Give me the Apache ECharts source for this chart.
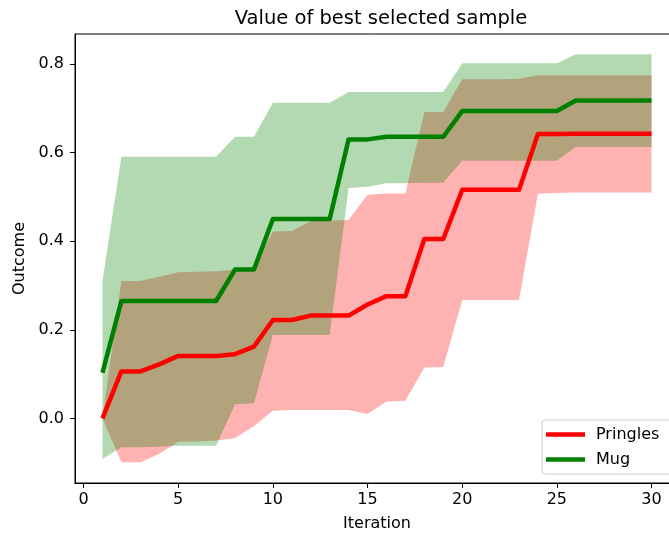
<!DOCTYPE html>
<html>
<head>
<meta charset="utf-8">
<script src="https://cdn.jsdelivr.net/npm/echarts@6/dist/echarts.min.js"></script>
<style>
  html, body { margin: 0; padding: 0; background: #ffffff; }
  #chart { width: 669px; height: 539px; }
</style>
</head>
<body>
<div id="chart"></div>
<script>
// Iterations of the selection run
const iterations = [1, 2, 3, 4, 5, 6, 7, 8, 9, 10, 11, 12, 13, 14, 15,
                    16, 17, 18, 19, 20, 21, 22, 23, 24, 25, 26, 27, 28, 29, 30];

// Pringles: mean outcome of best selected sample and its spread
const pringlesMean = [0.000, 0.106, 0.106, 0.122, 0.141, 0.141, 0.141, 0.145, 0.162, 0.222,
                      0.222, 0.232, 0.232, 0.232, 0.257, 0.276, 0.276, 0.405, 0.405, 0.516,
                      0.516, 0.516, 0.516, 0.642, 0.642, 0.643, 0.643, 0.643, 0.643, 0.643];
const pringlesLow  = [0.000, -0.099, -0.099, -0.080, -0.053, -0.052, -0.050, -0.045, -0.017, 0.017,
                      0.019, 0.019, 0.019, 0.019, 0.010, 0.038, 0.040, 0.115, 0.116, 0.267,
                      0.267, 0.267, 0.267, 0.507, 0.509, 0.510, 0.510, 0.510, 0.510, 0.510];
const pringlesHigh = [0.000, 0.310, 0.310, 0.320, 0.330, 0.331, 0.332, 0.336, 0.340, 0.422,
                      0.423, 0.445, 0.447, 0.448, 0.505, 0.508, 0.508, 0.692, 0.692, 0.766,
                      0.766, 0.766, 0.767, 0.775, 0.775, 0.775, 0.775, 0.775, 0.775, 0.775];

// Mug: mean outcome of best selected sample and its spread
const mugMean = [0.103, 0.265, 0.265, 0.265, 0.265, 0.265, 0.265, 0.336, 0.336, 0.450,
                 0.450, 0.450, 0.450, 0.630, 0.630, 0.636, 0.636, 0.636, 0.636, 0.694,
                 0.694, 0.694, 0.694, 0.694, 0.694, 0.718, 0.718, 0.718, 0.718, 0.718];
const mugLow  = [-0.092, -0.065, -0.065, -0.064, -0.062, -0.062, -0.062, 0.032, 0.034, 0.188,
                 0.188, 0.188, 0.188, 0.520, 0.523, 0.531, 0.531, 0.532, 0.532, 0.582,
                 0.582, 0.582, 0.582, 0.582, 0.582, 0.613, 0.613, 0.613, 0.613, 0.613];
const mugHigh = [0.310, 0.591, 0.591, 0.591, 0.591, 0.591, 0.591, 0.636, 0.636, 0.713,
                 0.713, 0.713, 0.713, 0.737, 0.737, 0.737, 0.737, 0.737, 0.737, 0.802,
                 0.802, 0.802, 0.802, 0.802, 0.802, 0.822, 0.822, 0.822, 0.822, 0.822];

// Tick labels
const xTicks = [0, 5, 10, 15, 20, 25, 30];
const yTicks = [0.0, 0.2, 0.4, 0.6, 0.8];

const FONT = 'DejaVu Sans';

function pairs(xs, ys) {
  return xs.map((x, i) => [x, ys[i]]);
}

// Shaded band between a lower and an upper curve, drawn as one polygon
function band(name, xs, lo, hi, color) {
  return {
    name: name,
    type: 'custom',
    silent: true,
    data: xs.map((x, i) => [x, lo[i], hi[i]]),
    encode: { x: 0, y: [1, 2] },
    renderItem: function (params, api) {
      if (params.dataIndex !== 0) return null;
      const pts = [];
      for (let i = 0; i < xs.length; i++) pts.push(api.coord([xs[i], hi[i]]));
      for (let i = xs.length - 1; i >= 0; i--) pts.push(api.coord([xs[i], lo[i]]));
      return {
        type: 'polygon',
        shape: { points: pts },
        style: { fill: color, stroke: null }
      };
    }
  };
}

function line(name, xs, ys, color) {
  return {
    name: name,
    type: 'line',
    data: pairs(xs, ys),
    symbol: 'none',
    lineStyle: { color: color, width: 4.5, join: 'round', cap: 'butt' },
    itemStyle: { color: color },
    animation: false
  };
}

const chart = echarts.init(document.getElementById('chart'), null, { renderer: 'canvas' });

chart.setOption({
  animation: false,
  backgroundColor: '#ffffff',
  textStyle: { fontFamily: FONT },
  title: {
    text: 'Value of best selected sample',
    left: 376,
    textAlign: 'center',
    top: 4,
    textStyle: { fontFamily: FONT, fontSize: 19.5, fontWeight: 'normal', color: '#000' }
  },
  grid: {
    left: 75, top: 34, width: 604, height: 449,
    outerBoundsMode: 'none',
    containLabel: false,
    show: true, borderColor: '#000', borderWidth: 1, backgroundColor: 'transparent'
  },
  legend: {
    data: [
      { name: 'Pringles', icon: 'rect' },
      { name: 'Mug', icon: 'rect' }
    ],
    orient: 'vertical',
    left: 542,
    top: 420,
    itemWidth: 39,
    itemHeight: 4.5,
    itemGap: 8,
    padding: [6, 14, 6, 4],
    backgroundColor: '#ffffff',
    borderColor: '#cccccc',
    borderWidth: 1,
    borderRadius: 3,
    textStyle: { fontFamily: FONT, fontSize: 16, color: '#000', lineHeight: 17, padding: [0, 0, 0, 6] }
  },
  xAxis: {
    type: 'value',
    min: -0.45,
    max: 31.45,
    name: 'Iteration',
    nameLocation: 'middle',
    nameGap: 33,
    nameTextStyle: { fontFamily: FONT, fontSize: 16, color: '#000' },
    axisLine: { show: true, onZero: false, lineStyle: { color: '#000', width: 1 } },
    axisTick: { show: true, length: 5, customValues: xTicks, lineStyle: { color: '#000' } },
    axisLabel: { customValues: xTicks, margin: 9, fontFamily: FONT, fontSize: 16, color: '#000' },
    splitLine: { show: false }
  },
  yAxis: {
    type: 'value',
    min: -0.146,
    max: 0.868,
    name: 'Outcome',
    nameLocation: 'middle',
    nameGap: 47,
    nameTextStyle: { fontFamily: FONT, fontSize: 16, color: '#000' },
    axisLine: { show: true, onZero: false, lineStyle: { color: '#000', width: 1 } },
    axisTick: { show: true, length: 5, customValues: yTicks, lineStyle: { color: '#000' } },
    axisLabel: {
      customValues: yTicks, margin: 11, fontFamily: FONT, fontSize: 16, color: '#000',
      formatter: v => v.toFixed(1)
    },
    splitLine: { show: false }
  },
  series: [
    band('Pringles range', iterations, pringlesLow, pringlesHigh, 'rgba(255,0,0,0.3)'),
    band('Mug range', iterations, mugLow, mugHigh, 'rgba(0,128,0,0.3)'),
    line('Pringles', iterations, pringlesMean, '#ff0000'),
    line('Mug', iterations, mugMean, '#008000')
  ]
});
</script>
</body>
</html>
